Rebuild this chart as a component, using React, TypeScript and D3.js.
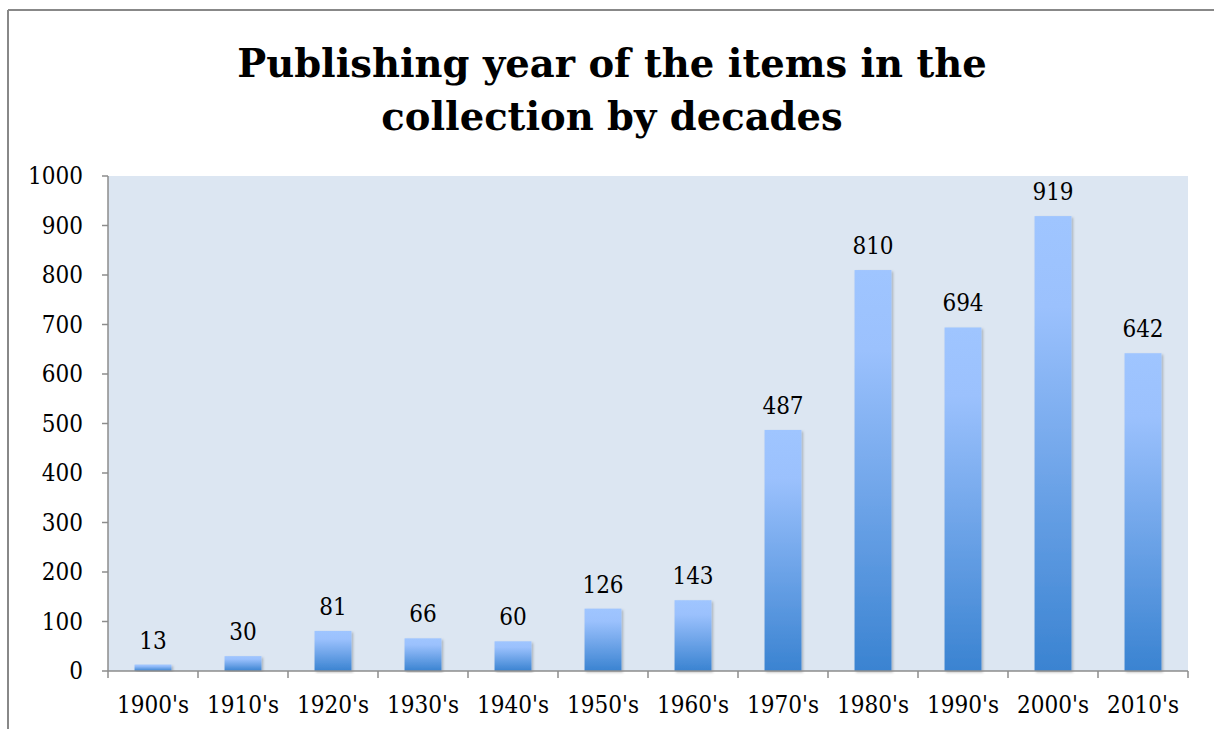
import React from "react";
import * as d3 from "d3";

const categories = ["1900's", "1910's", "1920's", "1930's", "1940's", "1950's", "1960's", "1970's", "1980's", "1990's", "2000's", "2010's"];
const values = [13, 30, 81, 66, 60, 126, 143, 487, 810, 694, 919, 642];
const yTicks = [0, 100, 200, 300, 400, 500, 600, 700, 800, 900, 1000];
const titleLines = ["Publishing year of the items in the", "collection by decades"];

const W = 1214;
const H = 729;
const plot = { left: 108, right: 1188, top: 176, bottom: 671 };
const FONT = "'DejaVu Serif Condensed', 'DejaVu Serif', serif";
const TITLE_FONT = "'DejaVu Serif', serif";

export default function App() {
  const x = d3.scaleBand<string>().domain(categories).range([plot.left, plot.right]).paddingInner(0.59).paddingOuter(0.295);
  const band = d3.scaleBand<string>().domain(categories).range([plot.left, plot.right]);
  const y = d3.scaleLinear().domain([0, 1000]).range([plot.bottom, plot.top]);
  const axisColor = "#8c8c8c";

  return (
    <svg width={W} height={H} style={{ position: "absolute", left: 0, top: 0, background: "#fff" }}>
      <defs>
        <linearGradient id="barGrad" x1="0" y1="0" x2="0" y2="1">
          <stop offset="0" stopColor="#9fc5ff" />
          <stop offset="0.2" stopColor="#9bc1fd" />
          <stop offset="1" stopColor="#3a83d1" />
        </linearGradient>
        <filter id="shadow" x="-20%" y="-5%" width="140%" height="110%">
          <feDropShadow dx="1.5" dy="1.5" stdDeviation="1.2" floodColor="#000" floodOpacity="0.25" />
        </filter>
      </defs>
      {/* outer frame */}
      <line x1={8} y1={10} x2={1214} y2={10} stroke="#888" strokeWidth={2} />
      <line x1={8} y1={10} x2={8} y2={729} stroke="#888" strokeWidth={2} />
      {/* title */}
      {titleLines.map((t, i) => (
        <text key={i} x={612} y={77 + i * 53} textAnchor="middle" fontFamily={TITLE_FONT} fontWeight="bold" fontSize={38.5} fill="#000">
          {t}
        </text>
      ))}
      {/* plot background */}
      <rect x={plot.left} y={plot.top} width={plot.right - plot.left} height={plot.bottom - plot.top} fill="#dce6f2" />
      {/* bars */}
      {values.map((v, i) => (
        <rect key={i} x={x(categories[i])} y={y(v)} width={x.bandwidth()} height={y(0) - y(v)} fill="url(#barGrad)" filter="url(#shadow)" />
      ))}
      {/* data labels */}
      {values.map((v, i) => (
        <text key={"l" + i} x={(x(categories[i]) as number) + x.bandwidth() / 2} y={y(v) - 16} textAnchor="middle" fontFamily={FONT} fontSize={24} fill="#000">
          {v}
        </text>
      ))}
      {/* y axis */}
      <line x1={plot.left} y1={plot.top} x2={plot.left} y2={plot.bottom} stroke={axisColor} strokeWidth={1.5} />
      {yTicks.map((t) => (
        <g key={t}>
          <line x1={plot.left - 6} x2={plot.left} y1={y(t)} y2={y(t)} stroke={axisColor} strokeWidth={1.5} />
          <text x={83} y={y(t) + 8} textAnchor="end" fontFamily={FONT} fontSize={24} fill="#000">
            {t}
          </text>
        </g>
      ))}
      {/* x axis */}
      <line x1={plot.left} y1={plot.bottom} x2={plot.right} y2={plot.bottom} stroke={axisColor} strokeWidth={1.5} />
      {categories.map((c, i) => (
        <line key={"t" + i} x1={band(c)} x2={band(c)} y1={plot.bottom} y2={plot.bottom + 7} stroke={axisColor} strokeWidth={1.5} />
      ))}
      <line x1={plot.right} x2={plot.right} y1={plot.bottom} y2={plot.bottom + 7} stroke={axisColor} strokeWidth={1.5} />
      {categories.map((c) => (
        <text key={"x" + c} x={(band(c) as number) + band.bandwidth() / 2} y={713} textAnchor="middle" fontFamily={FONT} fontSize={24} fill="#000">
          {c}
        </text>
      ))}
    </svg>
  );
}
